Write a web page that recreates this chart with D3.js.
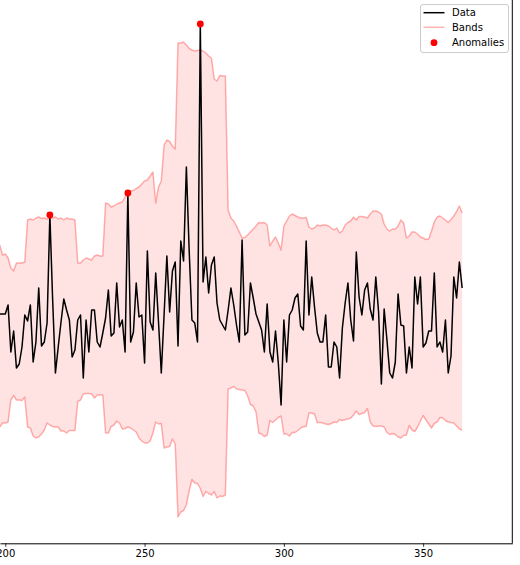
<!DOCTYPE html>
<html><head><meta charset="utf-8">
<script src="https://cdn.jsdelivr.net/npm/d3@7"></script>
<style>body{margin:0;background:#fff} svg{display:block}</style>
</head><body><svg id="c" width="520" height="565"></svg>
<script>
// ---- data (x index starts at startX, one value per integer step) ----
const startX = 198;
const dataValues = [
 24.6,24.6,24.6,25.5,20.8,22.9,19.2,19.6,21.3,24.5,
 23.9,25.5,19.8,21.8,27.2,21.4,21.8,23.7,34.5,26.0,
 18.7,21.3,23.8,26.1,25.0,24.0,20.3,21.0,24.0,24.5,
 18.2,24.0,20.8,25.0,25.0,21.8,21.3,22.7,24.2,27.0,
 22.4,22.7,27.7,23.3,24.0,20.8,36.7,21.8,22.8,27.7,
 24.3,24.5,19.7,30.9,23.8,23.0,28.7,23.8,18.7,24.5,
 30.4,24.8,28.9,29.8,21.4,31.9,29.9,39.3,31.0,24.0,
 23.7,21.8,53.6,27.8,30.3,26.7,29.5,30.3,25.7,24.0,
 23.5,23.0,25.0,27.2,25.5,23.5,21.8,32.0,22.5,22.8,
 27.7,26.2,24.6,23.8,23.0,20.8,25.6,20.8,19.8,22.9,
 19.7,15.5,24.0,19.8,24.5,25.0,26.2,26.6,23.4,23.0,
 31.9,24.5,28.3,25.3,22.7,21.8,21.8,24.5,19.3,19.3,
 21.8,21.3,18.2,23.2,25.7,27.7,24.0,21.9,30.8,26.3,
 24.5,27.0,27.7,25.1,24.0,28.3,24.8,17.6,25.1,22.0,
 18.7,18.2,19.8,26.6,23.5,23.4,18.7,21.3,19.2,28.3,
 25.6,28.3,21.3,21.7,22.9,22.9,28.7,21.3,21.8,20.8,
 24.0,18.7,20.4,28.3,26.2,29.8,27.2
];
const upperBand = [
 31.5,30.5,30.6,30.2,29.2,28.9,29.7,29.7,29.7,29.8,
 34.0,34.1,34.0,34.2,34.3,34.15,34.2,34.1,34.2,34.2,
 34.3,34.1,34.2,34.0,34.2,34.1,34.1,34.0,29.7,29.7,
 30.0,30.2,30.1,30.0,30.4,30.5,30.4,30.4,35.7,35.6,
 35.3,35.4,35.6,35.7,35.8,36.3,36.8,36.9,36.95,37.15,
 37.3,37.6,37.9,38.0,38.4,38.8,35.7,37.3,37.9,41.5,
 42.0,41.85,41.4,41.1,51.7,51.7,51.8,51.5,51.15,51.0,
 50.9,50.95,51.0,50.9,50.7,50.4,50.2,48.1,47.9,48.45,
 48.4,48.4,35.0,34.2,33.9,33.4,32.8,32.2,32.25,32.5,
 32.8,33.1,33.4,33.75,33.7,33.75,33.5,31.4,31.9,32.3,
 31.7,31.0,33.4,33.9,34.4,34.6,34.45,34.3,34.2,34.2,
 34.25,33.3,33.1,33.2,33.5,33.4,33.5,33.5,33.4,33.2,
 33.0,33.2,32.7,32.9,33.5,33.75,33.9,34.3,34.0,34.35,
 34.35,34.3,34.2,34.6,34.9,34.9,34.8,34.6,33.6,33.1,
 32.9,33.1,33.1,33.4,34.0,33.7,32.2,32.4,32.8,32.8,
 32.6,32.3,32.2,32.05,32.1,32.9,33.8,34.3,34.4,34.2,
 34.0,33.75,34.05,34.4,34.85,35.4,34.7
];
const lowerBand = [
 13.3,13.7,13.7,13.8,16.0,16.45,16.0,16.0,15.95,16.3,
 13.3,13.2,12.4,12.2,12.3,12.6,13.0,13.7,13.5,13.35,
 13.3,13.3,12.9,12.9,12.7,12.95,12.95,12.95,15.85,16.0,
 16.6,16.65,16.65,16.6,16.2,16.5,16.5,16.5,12.7,12.7,
 13.35,13.5,13.9,13.7,13.1,13.15,13.3,13.2,13.0,12.8,
 12.2,11.9,11.7,11.7,11.9,12.7,13.8,13.6,13.65,11.2,
 11.3,11.35,12.1,11.6,4.3,4.8,4.95,5.5,6.9,8.05,
 7.7,7.65,7.15,6.35,6.85,6.65,6.5,6.85,6.2,6.4,
 6.35,6.5,17.1,17.2,17.35,17.1,17.05,17.0,16.95,16.4,
 15.55,15.4,14.8,12.7,12.6,12.35,12.5,13.95,13.75,14.0,
 14.25,14.4,12.6,12.6,12.4,12.75,12.75,12.95,13.2,13.35,
 13.35,14.7,14.7,14.6,13.75,13.75,13.7,13.6,13.55,13.65,
 13.8,13.75,14.05,13.95,14.05,14.1,14.2,14.5,14.9,14.55,
 14.65,14.75,15.15,13.8,13.4,13.35,13.4,13.4,13.3,12.75,
 12.55,12.65,12.55,12.3,12.2,12.45,12.5,13.45,13.0,12.85,
 13.3,13.9,14.45,14.0,13.6,13.2,13.65,13.8,14.25,14.2,
 13.95,13.8,13.75,13.7,13.4,13.1,13.0
];
const anomalyX = [216, 244, 270];
const anomalyY = [34.5, 36.7, 53.6];
const xTicks = [200, 250, 300, 350];
const legendLabels = ["Data", "Bands", "Anomalies"];

// ---- layout ----
const svg = d3.select("#c");
const plotL = 0, plotR = 512.3, plotT = 0, plotB = 543.3;
const x = d3.scaleLinear().domain([198.1, 382.0]).range([plotL, plotR]);
const y = d3.scaleLinear().domain([1.67, 56]).range([plotB, plotT]);
const FONT = "DejaVu Sans, sans-serif";

svg.append("defs").append("clipPath").attr("id", "clip")
  .append("rect").attr("x", plotL - 5).attr("y", plotT - 5)
  .attr("width", plotR - plotL + 5).attr("height", plotB - plotT + 5);

const rows = dataValues.map((v, i) => ({ x: startX + i, v, u: upperBand[i], l: lowerBand[i] }));

const g = svg.append("g").attr("clip-path", "url(#clip)");

// band fill
g.append("path").datum(rows)
  .attr("d", d3.area().x(d => x(d.x)).y0(d => y(d.l)).y1(d => y(d.u)))
  .attr("fill", "red").attr("fill-opacity", 0.11).attr("stroke", "none");

// band lines
[ "u", "l" ].forEach(k => {
  g.append("path").datum(rows)
    .attr("d", d3.line().x(d => x(d.x)).y(d => y(d[k])))
    .attr("fill", "none").attr("stroke", "red").attr("stroke-opacity", 0.3)
    .attr("stroke-width", 1.5).attr("stroke-linejoin", "round");
});

// data line
g.append("path").datum(rows)
  .attr("d", d3.line().x(d => x(d.x)).y(d => y(d.v)))
  .attr("fill", "none").attr("stroke", "#000").attr("stroke-width", 1.5)
  .attr("stroke-linejoin", "round");

// anomalies
g.selectAll("circle.anom").data(anomalyX.map((ax, i) => ({ x: ax, y: anomalyY[i] })))
  .join("circle").attr("class", "anom")
  .attr("cx", d => x(d.x)).attr("cy", d => y(d.y)).attr("r", 3.4)
  .attr("fill", "red");

// x axis
const ax = svg.append("g").attr("transform", `translate(0,${plotB})`)
  .call(d3.axisBottom(x).tickValues(xTicks).tickSizeInner(3.5).tickSizeOuter(0).tickPadding(3.5));
ax.select(".domain").attr("stroke", "#000").attr("stroke-width", 1);
ax.selectAll(".tick line").attr("stroke", "#000").attr("stroke-width", 0.8);
ax.selectAll(".tick text").attr("font-family", FONT).attr("font-size", 10).attr("fill", "#000");

// right spine
svg.append("line").attr("x1", plotR).attr("x2", plotR).attr("y1", plotT).attr("y2", plotB)
  .attr("stroke", "#000").attr("stroke-width", 1);

// legend
const lg = svg.append("g").attr("transform", "translate(420.5,4.5)");
lg.append("rect").attr("width", 88).attr("height", 48).attr("rx", 2.5)
  .attr("fill", "#fff").attr("fill-opacity", 0.8).attr("stroke", "#ccc").attr("stroke-width", 1);
const rowY = [8.2, 22.8, 38.2];
legendLabels.forEach((lab, i) => {
  const yy = rowY[i];
  if (i === 0) {
    lg.append("line").attr("x1", 3).attr("x2", 24).attr("y1", yy).attr("y2", yy)
      .attr("stroke", "#000").attr("stroke-width", 1.5);
  } else if (i === 1) {
    lg.append("line").attr("x1", 3).attr("x2", 24).attr("y1", yy).attr("y2", yy)
      .attr("stroke", "red").attr("stroke-opacity", 0.3).attr("stroke-width", 1.5);
  } else {
    lg.append("circle").attr("cx", 13.5).attr("cy", yy).attr("r", 3.4).attr("fill", "red");
  }
  lg.append("text").attr("x", 31.5).attr("y", yy).attr("dy", "0.35em")
    .attr("font-family", FONT).attr("font-size", 10).attr("fill", "#000").text(lab);
});
</script>
</body></html>
